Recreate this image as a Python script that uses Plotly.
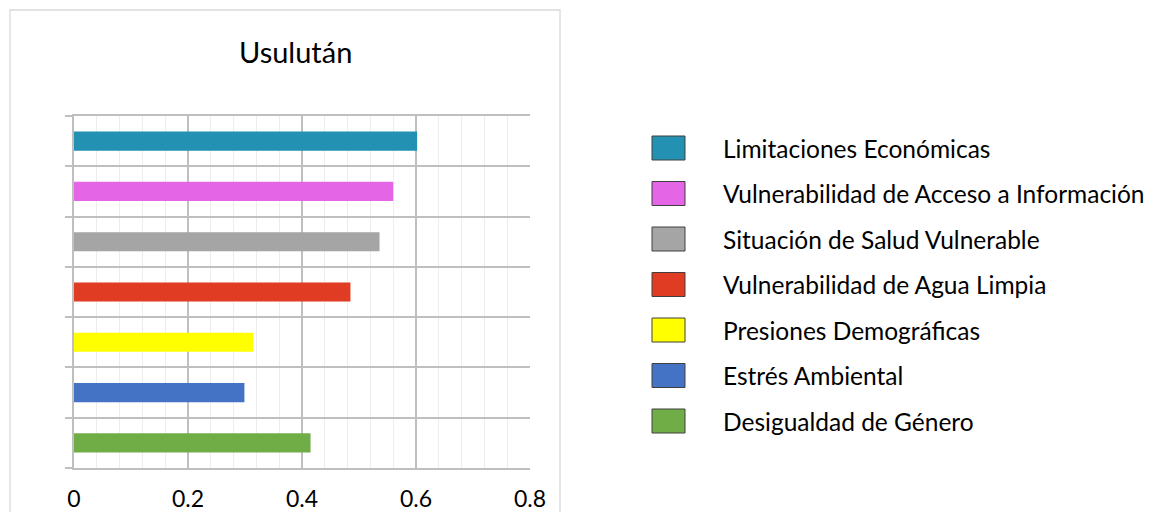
import plotly.graph_objects as go

categories = [
    "Limitaciones Económicas",
    "Vulnerabilidad de Acceso a Información",
    "Situación de Salud Vulnerable",
    "Vulnerabilidad de Agua Limpia",
    "Presiones Demográficas",
    "Estrés Ambiental",
    "Desigualdad de Género",
]
values = [0.602, 0.560, 0.536, 0.485, 0.314, 0.299, 0.415]
colors = ["#2391B1", "#E465E6", "#A5A5A5", "#E03C24", "#FFFF00", "#4472C4", "#70AD47"]
x_ticks = [0, 0.2, 0.4, 0.6, 0.8]
x_ticklabels = ["0", "0.2", "0.4", "0.6", "0.8"]
title = "Usulután"

FONT = "Lato"
W, H = 1154, 512
OFF = 8  # page body margin
L, R, T, B = 74, 530, 116, 468  # plot area in page pixels

def px_x(p):
    return (p - L) / (R - L)

def px_y(p):
    return (B - p) / (B - T)

fig = go.Figure()
for name, v, c in zip(categories, values, colors):
    fig.add_trace(go.Bar(
        y=[name], x=[v], orientation="h", name=name,
        marker=dict(color=c, line=dict(width=0)), width=0.38,
        showlegend=False,
    ))

shapes = []
annotations = []
# chart area border
shapes.append(dict(type="rect", xref="paper", yref="paper",
                   x0=px_x(10), x1=px_x(560), y0=px_y(530), y1=px_y(10),
                   line=dict(color="#D9D9D9", width=1.3), fillcolor="rgba(0,0,0,0)", layer="below"))

# legend
row0, step = 148, 45.5
for i, (name, c) in enumerate(zip(categories, colors)):
    yc = row0 + i * step
    shapes.append(dict(type="rect", xref="paper", yref="paper",
                       x0=px_x(652), x1=px_x(685), y0=px_y(yc + 12), y1=px_y(yc - 12),
                       line=dict(color="#404040", width=1), fillcolor=c))
    annotations.append(dict(text=name, xref="paper", yref="paper",
                            x=px_x(721), y=px_y(yc), xanchor="left", yanchor="middle",
                            showarrow=False, font=dict(family=FONT, size=24.5, color="#000000")))

annotations.append(dict(text=title, xref="paper", yref="paper",
                        x=px_x(295), y=px_y(52), xanchor="center", yanchor="middle",
                        showarrow=False, font=dict(family=FONT, size=29, color="#000000")))

fig.update_layout(
    width=W, height=H,
    margin=dict(l=L - OFF, r=(W + OFF) - R, t=T - OFF, b=(H + OFF) - B, pad=0),
    paper_bgcolor="white", plot_bgcolor="white",
    barmode="overlay",
    shapes=shapes, annotations=annotations,
    font=dict(family=FONT, color="#000000"),
    xaxis=dict(range=[0, 0.8], tickvals=x_ticks, ticktext=x_ticklabels,
               showgrid=True, gridcolor="#BFBFBF", gridwidth=1.5,
               minor=dict(dtick=0.04, tick0=0, showgrid=True, gridcolor="#EDEDED", gridwidth=1.2),
               showline=True, mirror=True, linecolor="#BFBFBF", linewidth=1.5,
               zeroline=False, ticks="", ticklabelstandoff=10, automargin=False,
               tickfont=dict(family=FONT, size=23, color="#000000")),
    yaxis=dict(type="category", categoryorder="array", categoryarray=categories[::-1],
               tickson="boundaries", showticklabels=False, automargin=False,
               showgrid=True, gridcolor="#BFBFBF", gridwidth=1.5,
               showline=True, linecolor="#BFBFBF", linewidth=1.5,
               ticks="outside", ticklen=7, tickcolor="#BFBFBF", tickwidth=1.5,
               zeroline=False),
)

fig.write_html("out.html")
